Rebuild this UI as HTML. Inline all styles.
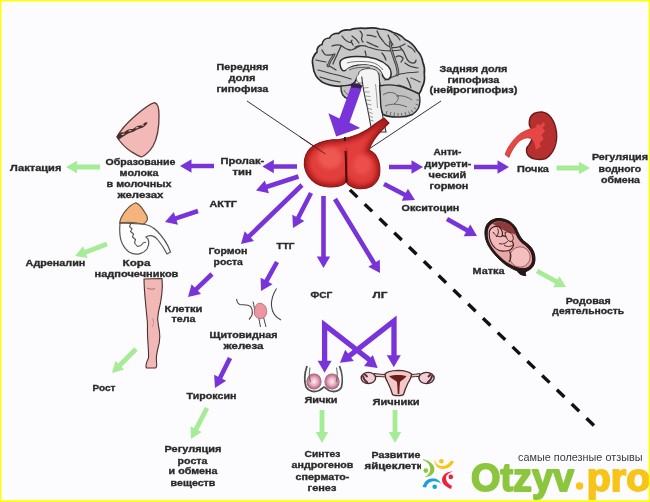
<!DOCTYPE html>
<html><head><meta charset="utf-8"><style>html,body{margin:0;padding:0;background:#fcfcfe;width:650px;height:502px;overflow:hidden}svg{display:block;filter:blur(0.3px)}text{font-family:"Liberation Sans",sans-serif}</style></head>
<body><svg width="650" height="502" viewBox="0 0 650 502">
<rect x="0" y="0" width="650" height="502" fill="#ffff00"/>
<rect x="1.2" y="1.2" width="647.6" height="499.4" fill="#fcfcfe"/>
<line x1="247" y1="101" x2="325.5" y2="154" stroke="#333" stroke-width="1"/>
<line x1="441" y1="101" x2="367.8" y2="149.8" stroke="#333" stroke-width="1"/>
<path d="M313,66 C311.5,60 313.5,55 317,52 C316.5,48 319,45 322,44.5 C322.5,40 326,38 329.5,38 C331,34.5 335,33 338.5,33.5 C341,30.5 346,29.5 350,30 C354,28 360,28 365,28.3 C370,27.5 376,27.8 380,29 C385,29 390,30.5 393,32.5 C398,33.5 402,36 405,39.5 C410,41.5 414,45 417,50.5 C420,53.5 422,57 422.8,62 C424.5,66 424.8,70 424.3,74 C425,79 424,84 422,87.5 C421.5,90 420.5,92 419,94 C410,91 400,88 392,87 L380,86 L378,76 L357,76 C357,80 355,84 348,86 C340,87 330,86 322,82 C316,78 313.5,72 313,66 Z" fill="#c8c8c8" stroke="#2a2a2a" stroke-width="1.7"/>
<path d="M341,86 C340.5,92 343,97 348,99 C353,100.5 357,97 358.5,92 L359,84 Z" fill="#c2c2c2" stroke="#2a2a2a" stroke-width="1.3"/>
<path d="M344,90 C346,94 349,96 353,96" fill="none" stroke="#555" stroke-width="0.9"/>
<path d="M342,36 C344,39 347,42 350,42.5 C351.5,42 352,41 352,40 M351,41 C352,43 352.5,44 353,45" fill="none" stroke="#3e3e3e" stroke-width="1.25" stroke-linecap="round"/>
<path d="M332,46 C335,45 338,43.5 342,46 C345,48.5 348,50 351,50 C354,49.5 357,47 360,46" fill="none" stroke="#3e3e3e" stroke-width="1.25" stroke-linecap="round"/>
<path d="M341,46 C340,49 338,52 337,55 C335.5,58 334,61 333,64" fill="none" stroke="#3e3e3e" stroke-width="1.25" stroke-linecap="round"/>
<path d="M322,50 C323,52 324.5,54.5 326,55 C329,55.5 332,55 335,54" fill="none" stroke="#3e3e3e" stroke-width="1.25" stroke-linecap="round"/>
<path d="M316,60 C319,61 322,61.5 326,62" fill="none" stroke="#3e3e3e" stroke-width="1.25" stroke-linecap="round"/>
<path d="M360,31 C362,33 363,35.5 361.5,38 C361,40 362,41 363,42" fill="none" stroke="#3e3e3e" stroke-width="1.25" stroke-linecap="round"/>
<path d="M367,35 C370,35 373,35.5 376,37" fill="none" stroke="#3e3e3e" stroke-width="1.25" stroke-linecap="round"/>
<path d="M377,31 C378,34 380,38 383,41 C385,44 388,47 392,47.5 C396,48 400,47 405,44" fill="none" stroke="#3e3e3e" stroke-width="1.25" stroke-linecap="round"/>
<path d="M388,35 C389,38 391,42 393,45" fill="none" stroke="#3e3e3e" stroke-width="1.25" stroke-linecap="round"/>
<path d="M394,34 C396,35 398,37 400,40" fill="none" stroke="#3e3e3e" stroke-width="1.25" stroke-linecap="round"/>
<path d="M355,47 C359,45.5 364,45 368,47 C372,48.5 378,50 383,50.5 C389,51 395,51 401,50" fill="none" stroke="#3e3e3e" stroke-width="1.25" stroke-linecap="round"/>
<path d="M365,51 C365.5,53 366,54 366,55.5" fill="none" stroke="#3e3e3e" stroke-width="1.25" stroke-linecap="round"/>
<path d="M367,42 C370,43.5 374,45.5 378,47" fill="none" stroke="#3e3e3e" stroke-width="1.25" stroke-linecap="round"/>
<path d="M382,53 C384,55 385,57 386,60" fill="none" stroke="#3e3e3e" stroke-width="1.25" stroke-linecap="round"/>
<path d="M400,47 C403,50 405,54 406,57 C407.5,61 410,63 413,63 C415,63 416,61.5 416,60" fill="none" stroke="#3e3e3e" stroke-width="1.25" stroke-linecap="round"/>
<path d="M396,57 C398,55.5 400,55 403,58 C403,60 402,61 401,62" fill="none" stroke="#3e3e3e" stroke-width="1.25" stroke-linecap="round"/>
<path d="M385,80 C390,78 395,76 400,74 C405,73 410,72.5 418,72" fill="none" stroke="#3e3e3e" stroke-width="1.25" stroke-linecap="round"/>
<path d="M405,63 C408,65.5 411,67.5 418,68" fill="none" stroke="#3e3e3e" stroke-width="1.25" stroke-linecap="round"/>
<path d="M407,78 C408.5,81 410,84 411,88" fill="none" stroke="#3e3e3e" stroke-width="1.25" stroke-linecap="round"/>
<path d="M411,78 C414,79 417,80.5 420,82" fill="none" stroke="#3e3e3e" stroke-width="1.25" stroke-linecap="round"/>
<path d="M398,85 C402,85.5 406,87 410,90" fill="none" stroke="#3e3e3e" stroke-width="1.25" stroke-linecap="round"/>
<path d="M318,70 C323,71 328,73 333,74 C339,75 345,77 351,79" fill="none" stroke="#3e3e3e" stroke-width="1.25" stroke-linecap="round"/>
<path d="M320,77 C326,79 333,81 340,82" fill="none" stroke="#3e3e3e" stroke-width="1.25" stroke-linecap="round"/>
<path d="M327,65 C330,66 333,68 336,70" fill="none" stroke="#3e3e3e" stroke-width="1.25" stroke-linecap="round"/>
<path d="M352,36 C355,38 357,40 359,43" fill="none" stroke="#3e3e3e" stroke-width="1.25" stroke-linecap="round"/>
<path d="M408,46 C411,47 413,49 415,52" fill="none" stroke="#3e3e3e" stroke-width="1.25" stroke-linecap="round"/>
<path d="M390,42 C390.5,47 392,53 394,58 C396,63 397.5,68 398,72 C398,73.5 397.5,74.5 397,75" fill="none" stroke="#3e3e3e" stroke-width="2.6" stroke-linecap="round"/>
<path d="M390,42 C390.5,47 392,53 394,58 C396,63 397.5,68 398,72 C398,73.5 397.5,74.5 397,75" fill="none" stroke="#aaaaaa" stroke-width="0.8" stroke-linecap="round"/>
<path d="M334,55 C331,59 329,63 328,66" fill="none" stroke="#3e3e3e" stroke-width="2.6" stroke-linecap="round"/>
<path d="M334,55 C331,59 329,63 328,66" fill="none" stroke="#aaaaaa" stroke-width="0.8" stroke-linecap="round"/>
<path d="M372,60 C376,62 379,65 381,70" fill="none" stroke="#3e3e3e" stroke-width="2.6" stroke-linecap="round"/>
<path d="M372,60 C376,62 379,65 381,70" fill="none" stroke="#aaaaaa" stroke-width="0.8" stroke-linecap="round"/>
<path d="M340,64 C339,59 345,57 355,56.5 C368,56 381,59 388,66 C392,70 392,77 389,79 C386,80.5 383,78 382,74 C380,69 374,65.5 366,65 C358,64.5 350,66.5 346,70 C343,72 340.5,70 340,64 Z" fill="#f6f6f6" stroke="#2a2a2a" stroke-width="1.5"/>
<path d="M347,63 C352,61.5 360,61 370,62 C376,63 380,66 383,70" fill="none" stroke="#666" stroke-width="0.9"/>
<path d="M346,70 C350,66.5 358,65 366,65 C374,65.5 380,69 382,74 L378,78 L357,78 C352,76 348,73 346,70 Z" fill="#c8c8c8" stroke="none"/>
<path d="M349,70 C354,67.5 362,67 370,67.5" fill="none" stroke="#555" stroke-width="0.9"/>
<path d="M356.5,77 C357,74.5 360,73.5 363,74.5 C365,76 365.5,79 365,82 C363,83.5 359,83.5 357.5,82 C356.5,80.5 356.3,78.5 356.5,77 Z" fill="#f4f4f4" stroke="#555" stroke-width="0.8"/>
<path d="M361.5,74 C362.5,86 364.5,96 367,106 C368.5,114 370,122 372,132 L386,132 C384,124 382.5,116 381.5,108 C380.5,98 380,88 379,74 Z" fill="#f4f4f4" stroke="#333" stroke-width="1.1"/>
<ellipse cx="368.5" cy="73.2" rx="10" ry="4.6" fill="#f4f4f4" stroke="none"/>
<path d="M358.5,74 C359,70.5 363,68.6 368.5,68.6 C374,68.6 378,70.5 378.5,74" fill="none" stroke="#444" stroke-width="1"/>
<path d="M364,88 L368.5,87.5 M364.5,92 L369.5,92 M365.5,96 L370.5,96.5 M366,100 L371,100.5 M367,104 L371.5,105 M367.5,108 L372,109.5 M368.5,112 L372.5,113.5 M369,116 L373,117.5 M370,120 L373.5,121 M375.5,84 C376.5,92 377,100 377.5,108" fill="none" stroke="#8a8a8a" stroke-width="0.85"/>
<path d="M379.6,86 C388,84 398,85 406.8,88.5 C412,90.5 416,92 419,94 C420.5,99 420,104 418.5,108 C417,111 414.5,113 412.4,114.5 C408,116.5 404,117 399.9,117 C393,117.3 387,116.5 383,114.5 C381,110 380.5,105 380.5,100 C380.3,95 380,90 379.6,86 Z" fill="#c0c0c0" stroke="#2a2a2a" stroke-width="1.4"/>
<path d="M383,95 C388,91 395,92 398,96 C399,99 397,102 394,104 M396,96 C402,95 408,97 412,100 M385,106 C392,103 400,104 407,107" fill="none" stroke="#555" stroke-width="0.9"/>
<path d="M386,114.5 L387,111 M390,115.5 L391,112 M394,116 L394.5,112.5 M398,116.5 L398,113 M402,116.5 L401.5,113 M406,115.5 L405,112 M410,114.5 L408.5,111.5 M413,112.5 L411,110 M416,109 L414,107.5 M418,105 L415.5,104 M419,100 L416.5,100" fill="none" stroke="#555" stroke-width="0.8"/>
<polygon fill="#7834d8" points="351.5,85.0 361.5,89.0 349.5,122.5 360.2,128.1 336.2,136.5 328.4,113.2 339.5,118.5"/>
<path d="M350.5,84 C354,82.5 359,83 362.5,85.5 L361,89 C358,88 354,87.5 351.5,88 Z" fill="#3a2050"/>
<defs><clipPath id="pc"><path d="M339,139.5 C352,138 366,132 375,124 L384,118 L389,123 L382,130 C374,138 371,144 369,150 C378,154 381,164 379.5,175 C377,186 367,190 357,188.5 C352,187.5 348,185 346,182 C343,186 335,188 325,186.5 C311,184 303,172 304.5,160 C306,148 318,139.5 339,139.5 Z"/></clipPath><radialGradient id="pl" cx="0.5" cy="0.45" r="0.55"><stop offset="0" stop-color="#f25a55"/><stop offset="0.65" stop-color="#e43e3c"/><stop offset="1" stop-color="#b01e1e"/></radialGradient><linearGradient id="ps" x1="0" y1="1" x2="1" y2="0"><stop offset="0" stop-color="#e84a46"/><stop offset="1" stop-color="#dc3c3a"/></linearGradient></defs>
<path d="M339,139.5 C352,138 366,132 375,124 L384,118 L389,123 L382,130 C374,138 371,144 369,150 C378,154 381,164 379.5,175 C377,186 367,190 357,188.5 C352,187.5 348,185 346,182 C343,186 335,188 325,186.5 C311,184 303,172 304.5,160 C306,148 318,139.5 339,139.5 Z" fill="#e23e3b"/>
<defs><filter id="pb" x="-20%%" y="-20%%" width="140%%" height="140%%"><feGaussianBlur stdDeviation="2.2"/></filter></defs>
<g clip-path="url(#pc)"><ellipse cx="330" cy="158" rx="12" ry="11" fill="#f25e58" filter="url(#pb)" opacity="0.8"/><ellipse cx="362" cy="165" rx="9" ry="10" fill="#f05854" filter="url(#pb)" opacity="0.7"/><path d="M339,139.5 C352,138 366,132 375,124 L384,118 L389,123 L382,130 C374,138 371,144 369,150 C378,154 381,164 379.5,175 C377,186 367,190 357,188.5 C352,187.5 348,185 346,182 C343,186 335,188 325,186.5 C311,184 303,172 304.5,160 C306,148 318,139.5 339,139.5 Z" fill="none" stroke="#9a1414" stroke-width="7" filter="url(#pb)" opacity="0.85"/><path d="M346,150 C347,165 347,175 347,186" fill="none" stroke="#9a1414" stroke-width="5" filter="url(#pb)" opacity="0.6"/></g>
<path d="M339,139.5 C352,138 366,132 375,124 L384,118 L389,123 L382,130 C374,138 371,144 369,150 C378,154 381,164 379.5,175 C377,186 367,190 357,188.5 C352,187.5 348,185 346,182 C343,186 335,188 325,186.5 C311,184 303,172 304.5,160 C306,148 318,139.5 339,139.5 Z" fill="none" stroke="#8a1616" stroke-width="1.1"/>
<path d="M345.5,151 C346,160 346,172 346.5,182" stroke="#4a0a0a" stroke-width="1.9" fill="none"/>
<path d="M345,137 L345,141" stroke="#222" stroke-width="2"/>
<line x1="300" y1="137" x2="325.5" y2="154" stroke="#5a1a1a" stroke-width="0.9"/>
<line x1="349.9" y1="189.9" x2="594.1" y2="425.6" stroke="#111" stroke-width="3.4" stroke-dasharray="10.4 10.15"/>
<path d="M154.6,102.7 C157.5,103.5 159,108 159,115 C159.2,126 157.5,138 153,146 C150,151 146,155 141.5,157 C138,156 135,154 131,151.5 C125,147.5 120,142 117,137 C120,131 127,123 135,116 C142,110 149,104 154.6,102.7 Z" fill="#f2b9b6" stroke="#5a3838" stroke-width="1.3"/>
<path d="M116.5,136.5 C118,133 121,131.5 124,132.5 C127,129.5 130,128.5 133,129 C136,126 139,125.5 142,125 C144,123 146,121.5 147.5,122.5 C147,124.5 145,126 143,127.5 C140,128.5 137,129 134,131.5 C131,132.5 128,133 125,135.5 C122,137 120,139 118.5,140 Z" fill="#4a2e2e"/>
<path d="M122,134.5 L124,134 M129,131 L131,130.5 M136,128 L138,127.5 M142,125.5 L143.5,125" fill="none" stroke="#d8c4c4" stroke-width="1.1" stroke-linecap="round"/>
<path d="M120,223 C119,235 120,245 129,252 C136,256 143,254 147,249 C150,244 149,239 146,237 C150,234 155,236 158,240 C162,245 165,250 167,254 L170.5,252 C168,245 163,237 157,231 C152,226 146,224 141,224 Z" fill="#fdfdfd" stroke="#555" stroke-width="1.2"/>
<path d="M131,223 L129.5,226.5 L132,229 L130.5,231.5 L133.5,234 L132.5,237 L135.5,239.5 L134.5,243 L137.5,246.5 L141,245.5 L143,243 L146,242" fill="none" stroke="#555" stroke-width="1.1" stroke-linejoin="round"/>
<path d="M135.9,202.8 C139,203 143,209 147,216 C148.5,220 146,223.5 142.5,224 C135,222 126,222 119.7,222.8 C121,215 129,205 135.9,202.8 Z" fill="#f5b47c" stroke="#6a5040" stroke-width="1.2"/>
<path d="M144,279 L162,278.5 C162.8,286 162,298 158.5,312 C157,318 157.5,322 158.5,326 C160,332 160.5,340 158,348 C156.5,354 156,358 156.5,362 C157,365 157,367 155.5,368 L146.5,368 C145,366 146.5,362 148.5,358 C149,350 147,338 147.5,326 C147.5,320 146.5,315 146,308 C145,298 144,288 144,279 Z" fill="#f2b8b6" stroke="#4a3030" stroke-width="1.1"/>
<path d="M147,288 C150,289.5 153,289.5 155,288.5" fill="none" stroke="#8a5a5a" stroke-width="0.8"/>
<path d="M152,318 C154,320 154,324 152,327" fill="none" stroke="#b08080" stroke-width="0.7"/>
<path d="M236.5,299 C237,302 238,304 240,304.5 C244,305 248,304.5 250.5,306.5 C252.5,309 252.5,313 252,315 C251,317 250,318.5 249,319.5" fill="none" stroke="#444" stroke-width="1.1"/>
<path d="M276.5,288.5 C273,294 271,300 271.5,306 C272,312 275,317 281,320" fill="none" stroke="#444" stroke-width="1.1"/>
<path d="M253,301.5 C254,305 254.5,310 255.5,314" fill="none" stroke="#444" stroke-width="1"/>
<path d="M258.6,317 L260.5,327 M263.5,317 L266,327" fill="none" stroke="#444" stroke-width="1"/>
<path d="M256.5,305 C258,302.5 261.5,303 263.5,304.5 C266.5,306.5 267,310 266.5,313 C266,316 264,318.5 261,318.5 C258,318.8 255,317 254.5,314 C254,311 254.8,307 256.5,305 Z" fill="#ec96a2" stroke="#b06070" stroke-width="0.8"/>
<defs><radialGradient id="tg" cx="0.5" cy="0.5" r="0.55"><stop offset="0" stop-color="#fdeef2"/><stop offset="0.45" stop-color="#eab0c2"/><stop offset="1" stop-color="#9a4a68"/></radialGradient></defs>
<ellipse cx="314" cy="381.5" rx="7.6" ry="8" fill="url(#tg)"/>
<ellipse cx="332" cy="381.5" rx="7.6" ry="8" fill="url(#tg)"/>
<path d="M307,366 C305,372 304,381 306,387 C308.5,391.5 314,392.5 319,390.5 C321,389.5 323,387.5 324,387 C325.5,387.5 327,389.5 329,390.5 C334,392.5 339.5,391.5 341.5,387 C343,381 342,372 339.5,366" fill="none" stroke="#505050" stroke-width="1.8"/>
<path d="M310,367.5 C309,373 309,378 310.5,382 M336.5,367.5 C337.5,373 337.5,378 336,382" fill="none" stroke="#6a6a6a" stroke-width="1.1"/>
<path d="M374,373.5 C378,374 382,374.5 385.5,374.5 L385.5,377 C382,376.5 378,376.5 374,376.5 Z M411,374.5 C414,374.5 417,374 420,373.5 L420,376.5 C417,376.5 414,376.5 411,377 Z" fill="#e8c0c0" stroke="#4a2a2a" stroke-width="1"/>
<path d="M385,374 C387,371.5 392,370.5 398,370.3 C404,370.5 409,371.5 411.5,374 C411.5,377 410,380 408,383 C406,387 404.5,391 403.5,394.5 C402,396 394,396 392.5,394.5 C391.5,391 390,387 388,383 C386,380 385,377 385,374 Z" fill="#f4c8c8" stroke="#4a2a2a" stroke-width="1.3"/>
<path d="M389,376 C394,374.5 402,374.5 406.5,376 C405,378.5 402,380 400,382 C399.5,386 399.5,390 399.3,394 L397.7,394 C397.5,390 397.5,386 397,382 C395,380 391,378.5 389,376 Z" fill="#6a1e1e"/>
<ellipse cx="368.4" cy="378" rx="7.2" ry="5.6" fill="#f0d0d6" stroke="#4a2a2a" stroke-width="1.4"/>
<ellipse cx="426.5" cy="378" rx="7.6" ry="5.6" fill="#f0d0d6" stroke="#4a2a2a" stroke-width="1.4"/>
<path d="M363,376 C363.5,379 365,381 367.5,382.5 M365,374.5 L367,376.5 M432,376 C431.5,379 430,381 427.5,382.5 M430.5,374.5 L428.5,376.5" fill="none" stroke="#5a2a3a" stroke-width="1.8" stroke-linecap="round"/>
<path d="M530,118 C532,113.5 537,111.8 542,112 C549,112.8 555,120 556.5,132.5 C557.5,143 554,153 546,158.5 C539,160.5 531,159.5 527.5,154.5 C525.5,151 526.5,147 529,145 C532,141 534,134 532,129.5 C529.5,127 528.5,122.5 530,118 Z" fill="#b73030" stroke="#6a1a1a" stroke-width="1.4"/>
<path d="M505,154.5 C508,146 514,138 521,133 C526,130 531,128.5 535,127.5 L537.5,123.5 L540.5,125 L543,121.5 L545.5,124.5 L543,128 L545.5,131 L542,135 L544,139 L540,143 L541.5,147 L537.5,149 L535.5,151 C535,146 534,141 531,138.5 C527,137 522,138.5 518,142.5 C514,147 511,152 509,157.5 Z" fill="#e54646" stroke="#b02a2a" stroke-width="0.6"/>
<path d="M485,231 C485.5,224 490,219.5 497,218.5 C505,218 512,221.5 516,228 C518.5,233 520,238 525,242 C531,246 535,251 535,259 C535,265 532,269 527,271 C525,272 524.5,273.5 526,275.5 C521,275.5 518.5,273.5 517.5,271 C511,268.5 505,265 499,259 C493,253 488,247 486,240 C485,237 484.8,234 485,231 Z" fill="#2a1818" stroke="#1a1010" stroke-width="1"/>
<path d="M487.8,231.5 C488.5,226 492,222 498,221.5 C505,221 510.5,224.5 513.5,230 C516,235 518,240 523,244 C528.5,248 532,252 532,259 C532,264 529.5,267 525,268 C520,268.5 515,267 510,264 C504,261 499,256 494,250 C490,245 488,240 487.8,236 Z" fill="#e6a8a8"/>
<path d="M492,223.5 C497,221 505,221 510,224.5 C513,227 515,231 516.5,235 C512,233 508,232 505,231 C501,228 496,226 492,223.5 Z" fill="#8e3a3a"/>
<path d="M489.5,231 C491,227 495,225.5 499,227 C502,229 503,233 502,236 C505,235.5 508,237 508.5,240 C511,240 513.5,242 513.5,245 C513,249 509,251.5 504.5,251 C500,251.5 495.5,249 493,245.5 C490,241.5 488.8,236 489.5,231 Z" fill="#f2baba" stroke="#3a1a1a" stroke-width="1.1"/>
<path d="M493,232 C495,235 497.5,237.5 502,236.5 M499,243.5 C502,244.5 505.5,244 508.5,240.5 M497.5,228.5 C499,231.5 498.5,234.5 496,237 M504,245 C507,247 510,247 513,245" fill="none" stroke="#4a2020" stroke-width="1"/>
<path d="M505,232.5 C508.5,231 512,233 513,236.5 C514,239.5 512.5,241.5 510,241.5 C507.5,240.5 505.5,237 505,232.5 Z" fill="#f0b4b4" stroke="#3a1a1a" stroke-width="0.9"/>
<circle cx="520" cy="257" r="10.2" fill="#f3bebe" stroke="#7a3a3a" stroke-width="0.7"/>
<path d="M509.5,251.5 C511.5,255 511,259 509,262" fill="none" stroke="#3a1a1a" stroke-width="1.1"/>
<polygon fill="#7834d8" points="297.0,164.2 273.8,164.2 273.8,159.8 262.3,166.5 273.8,173.2 273.8,168.8 297.0,168.8"/>
<polygon fill="#7834d8" points="297.8,174.3 266.2,184.6 264.8,180.4 256.0,190.4 269.0,193.2 267.6,189.0 299.2,178.7"/>
<polygon fill="#7834d8" points="300.4,183.3 247.7,234.4 244.6,231.2 241.0,244.0 254.0,240.9 250.9,237.7 303.6,186.7"/>
<polygon fill="#7834d8" points="309.0,191.9 296.2,216.7 292.3,214.7 293.0,228.0 304.3,220.9 300.3,218.8 313.0,194.1"/>
<polygon fill="#7834d8" points="321.2,196.0 321.2,256.5 316.8,256.5 323.5,268.0 330.2,256.5 325.8,256.5 325.8,196.0"/>
<polygon fill="#7834d8" points="333.0,200.2 372.1,264.4 368.3,266.7 380.0,273.0 379.8,259.7 376.0,262.0 337.0,197.8"/>
<polygon fill="#7834d8" points="214.0,163.7 191.5,163.7 191.5,159.2 180.0,166.0 191.5,172.8 191.5,168.3 214.0,168.3"/>
<polygon fill="#7834d8" points="197.3,208.8 175.2,216.2 173.8,212.0 165.0,222.0 178.0,224.8 176.6,220.5 198.7,213.2"/>
<polygon fill="#7834d8" points="210.4,272.3 194.7,287.4 191.6,284.2 188.0,297.0 201.0,293.9 197.9,290.7 213.6,275.7"/>
<polygon fill="#7834d8" points="275.0,260.9 264.5,279.8 260.6,277.7 261.0,291.0 272.5,284.2 268.6,282.0 279.0,263.1"/>
<polygon fill="#7834d8" points="227.9,357.0 218.1,376.7 214.1,374.7 215.0,388.0 226.2,380.7 222.2,378.7 232.1,359.0"/>
<polygon fill="#7834d8" points="389.0,169.3 411.5,169.3 411.5,173.8 423.0,167.0 411.5,160.2 411.5,164.7 389.0,164.7"/>
<polygon fill="#7834d8" points="474.0,169.3 497.5,169.3 497.5,173.8 509.0,167.0 497.5,160.2 497.5,164.7 474.0,164.7"/>
<polygon fill="#7834d8" points="382.9,186.0 403.7,196.8 401.7,200.7 415.0,200.0 407.9,188.7 405.8,192.7 385.1,182.0"/>
<polygon fill="#7834d8" points="445.9,221.0 465.9,232.3 463.7,236.2 477.0,236.0 470.3,224.5 468.1,228.3 448.1,217.0"/>
<polygon fill="#a6ec96" points="100.0,164.6 77.0,164.6 77.0,160.8 66.0,167.0 77.0,173.2 77.0,169.4 100.0,169.4"/>
<polygon fill="#a6ec96" points="106.2,241.8 84.5,249.9 83.1,246.3 75.0,256.0 87.5,258.0 86.1,254.4 107.8,246.2"/>
<polygon fill="#a6ec96" points="134.3,347.3 118.1,363.5 115.4,360.8 112.0,373.0 124.2,369.6 121.5,366.9 137.7,350.7"/>
<polygon fill="#a6ec96" points="204.9,406.9 193.9,428.1 190.5,426.4 191.0,439.0 201.6,432.1 198.2,430.3 209.1,409.1"/>
<polygon fill="#a6ec96" points="319.6,410.0 319.6,432.0 315.8,432.0 322.0,443.0 328.2,432.0 324.4,432.0 324.4,410.0"/>
<polygon fill="#a6ec96" points="392.6,410.0 392.6,432.0 388.8,432.0 395.0,443.0 401.2,432.0 397.4,432.0 397.4,410.0"/>
<polygon fill="#a6ec96" points="556.5,170.4 579.0,170.4 579.0,174.2 590.0,168.0 579.0,161.8 579.0,165.6 556.5,165.6"/>
<polygon fill="#a6ec96" points="535.8,273.1 555.2,283.8 553.3,287.2 566.0,287.0 559.4,276.2 557.5,279.6 538.2,268.9"/>
<path d="M324.6,362 L324.6,325 L371,361" fill="none" stroke="#7834d8" stroke-width="5.3" stroke-linejoin="miter" stroke-miterlimit="10"/>
<path d="M394,356 L394,321 L346,358.5" fill="none" stroke="#7834d8" stroke-width="5.3" stroke-linejoin="miter" stroke-miterlimit="10"/>
<polygon fill="#7834d8" points="317.6,360.7 324.6,372.7 331.6,360.7"/>
<polygon fill="#7834d8" points="364.0,365.9 377.7,368.0 372.8,355.0"/>
<polygon fill="#7834d8" points="386.8,355.3 393.8,367.3 400.8,355.3"/>
<polygon fill="#7834d8" points="345.2,349.8 340.0,362.7 353.8,360.9"/>
<text x="216.6" y="69.6" textLength="51.8" lengthAdjust="spacingAndGlyphs" font-family="Liberation Sans" font-weight="bold" font-size="9.7" fill="#2a2a2a" stroke="#2a2a2a" stroke-width="0.35">Передняя</text>
<text x="228.6" y="80.6" textLength="26.8" lengthAdjust="spacingAndGlyphs" font-family="Liberation Sans" font-weight="bold" font-size="9.7" fill="#2a2a2a" stroke="#2a2a2a" stroke-width="0.35">доля</text>
<text x="216.6" y="91.6" textLength="51.8" lengthAdjust="spacingAndGlyphs" font-family="Liberation Sans" font-weight="bold" font-size="9.7" fill="#2a2a2a" stroke="#2a2a2a" stroke-width="0.35">гипофиза</text>
<text x="439.6" y="71.6" textLength="67.8" lengthAdjust="spacingAndGlyphs" font-family="Liberation Sans" font-weight="bold" font-size="9.7" fill="#2a2a2a" stroke="#2a2a2a" stroke-width="0.35">Задняя доля</text>
<text x="447.6" y="82.6" textLength="51.8" lengthAdjust="spacingAndGlyphs" font-family="Liberation Sans" font-weight="bold" font-size="9.7" fill="#2a2a2a" stroke="#2a2a2a" stroke-width="0.35">гипофиза</text>
<text x="429.6" y="93.4" textLength="87.8" lengthAdjust="spacingAndGlyphs" font-family="Liberation Sans" font-weight="bold" font-size="9.7" fill="#2a2a2a" stroke="#2a2a2a" stroke-width="0.35">(нейрогипофиз)</text>
<text x="220.4" y="164.2" textLength="43.8" lengthAdjust="spacingAndGlyphs" font-family="Liberation Sans" font-weight="bold" font-size="9.7" fill="#2a2a2a" stroke="#2a2a2a" stroke-width="0.35">Пролак-</text>
<text x="232.6" y="174.9" textLength="19.3" lengthAdjust="spacingAndGlyphs" font-family="Liberation Sans" font-weight="bold" font-size="9.7" fill="#2a2a2a" stroke="#2a2a2a" stroke-width="0.35">тин</text>
<text x="10.0" y="171.0" textLength="51.4" lengthAdjust="spacingAndGlyphs" font-family="Liberation Sans" font-weight="bold" font-size="9.7" fill="#2a2a2a" stroke="#2a2a2a" stroke-width="0.35">Лактация</text>
<text x="105.6" y="165.0" textLength="69.8" lengthAdjust="spacingAndGlyphs" font-family="Liberation Sans" font-weight="bold" font-size="9.7" fill="#2a2a2a" stroke="#2a2a2a" stroke-width="0.35">Образование</text>
<text x="119.6" y="176.0" textLength="38.8" lengthAdjust="spacingAndGlyphs" font-family="Liberation Sans" font-weight="bold" font-size="9.7" fill="#2a2a2a" stroke="#2a2a2a" stroke-width="0.35">молока</text>
<text x="106.6" y="187.0" textLength="64.8" lengthAdjust="spacingAndGlyphs" font-family="Liberation Sans" font-weight="bold" font-size="9.7" fill="#2a2a2a" stroke="#2a2a2a" stroke-width="0.35">в молочных</text>
<text x="117.6" y="198.0" textLength="45.8" lengthAdjust="spacingAndGlyphs" font-family="Liberation Sans" font-weight="bold" font-size="9.7" fill="#2a2a2a" stroke="#2a2a2a" stroke-width="0.35">железах</text>
<text x="209.6" y="207.4" textLength="27.3" lengthAdjust="spacingAndGlyphs" font-family="Liberation Sans" font-weight="bold" font-size="9.7" fill="#2a2a2a" stroke="#2a2a2a" stroke-width="0.35">АКТГ</text>
<text x="25.6" y="266.4" textLength="59.8" lengthAdjust="spacingAndGlyphs" font-family="Liberation Sans" font-weight="bold" font-size="9.7" fill="#2a2a2a" stroke="#2a2a2a" stroke-width="0.35">Адреналин</text>
<text x="122.6" y="266.0" textLength="27.8" lengthAdjust="spacingAndGlyphs" font-family="Liberation Sans" font-weight="bold" font-size="9.7" fill="#2a2a2a" stroke="#2a2a2a" stroke-width="0.35">Кора</text>
<text x="94.6" y="276.6" textLength="83.8" lengthAdjust="spacingAndGlyphs" font-family="Liberation Sans" font-weight="bold" font-size="9.7" fill="#2a2a2a" stroke="#2a2a2a" stroke-width="0.35">надпочечников</text>
<text x="208.6" y="254.0" textLength="38.8" lengthAdjust="spacingAndGlyphs" font-family="Liberation Sans" font-weight="bold" font-size="9.7" fill="#2a2a2a" stroke="#2a2a2a" stroke-width="0.35">Гормон</text>
<text x="213.6" y="265.0" textLength="29.2" lengthAdjust="spacingAndGlyphs" font-family="Liberation Sans" font-weight="bold" font-size="9.7" fill="#2a2a2a" stroke="#2a2a2a" stroke-width="0.35">роста</text>
<text x="276.6" y="249.0" textLength="17.8" lengthAdjust="spacingAndGlyphs" font-family="Liberation Sans" font-weight="bold" font-size="9.7" fill="#2a2a2a" stroke="#2a2a2a" stroke-width="0.35">ТТГ</text>
<text x="164.6" y="311.6" textLength="37.8" lengthAdjust="spacingAndGlyphs" font-family="Liberation Sans" font-weight="bold" font-size="9.7" fill="#2a2a2a" stroke="#2a2a2a" stroke-width="0.35">Клетки</text>
<text x="171.6" y="322.4" textLength="23.8" lengthAdjust="spacingAndGlyphs" font-family="Liberation Sans" font-weight="bold" font-size="9.7" fill="#2a2a2a" stroke="#2a2a2a" stroke-width="0.35">тела</text>
<text x="209.6" y="337.6" textLength="67.8" lengthAdjust="spacingAndGlyphs" font-family="Liberation Sans" font-weight="bold" font-size="9.7" fill="#2a2a2a" stroke="#2a2a2a" stroke-width="0.35">Щитовидная</text>
<text x="223.6" y="349.0" textLength="39.8" lengthAdjust="spacingAndGlyphs" font-family="Liberation Sans" font-weight="bold" font-size="9.7" fill="#2a2a2a" stroke="#2a2a2a" stroke-width="0.35">железа</text>
<text x="92.6" y="390.6" textLength="22.8" lengthAdjust="spacingAndGlyphs" font-family="Liberation Sans" font-weight="bold" font-size="9.7" fill="#2a2a2a" stroke="#2a2a2a" stroke-width="0.35">Рост</text>
<text x="186.6" y="399.4" textLength="49.8" lengthAdjust="spacingAndGlyphs" font-family="Liberation Sans" font-weight="bold" font-size="9.7" fill="#2a2a2a" stroke="#2a2a2a" stroke-width="0.35">Тироксин</text>
<text x="164.6" y="452.4" textLength="56.8" lengthAdjust="spacingAndGlyphs" font-family="Liberation Sans" font-weight="bold" font-size="9.7" fill="#2a2a2a" stroke="#2a2a2a" stroke-width="0.35">Регуляция</text>
<text x="177.6" y="463.6" textLength="29.8" lengthAdjust="spacingAndGlyphs" font-family="Liberation Sans" font-weight="bold" font-size="9.7" fill="#2a2a2a" stroke="#2a2a2a" stroke-width="0.35">роста</text>
<text x="168.6" y="474.4" textLength="48.8" lengthAdjust="spacingAndGlyphs" font-family="Liberation Sans" font-weight="bold" font-size="9.7" fill="#2a2a2a" stroke="#2a2a2a" stroke-width="0.35">и обмена</text>
<text x="170.6" y="485.6" textLength="44.8" lengthAdjust="spacingAndGlyphs" font-family="Liberation Sans" font-weight="bold" font-size="9.7" fill="#2a2a2a" stroke="#2a2a2a" stroke-width="0.35">веществ</text>
<text x="310.6" y="298.4" textLength="21.8" lengthAdjust="spacingAndGlyphs" font-family="Liberation Sans" font-weight="bold" font-size="9.7" fill="#2a2a2a" stroke="#2a2a2a" stroke-width="0.35">ФСГ</text>
<text x="372.6" y="298.4" textLength="14.8" lengthAdjust="spacingAndGlyphs" font-family="Liberation Sans" font-weight="bold" font-size="9.7" fill="#2a2a2a" stroke="#2a2a2a" stroke-width="0.35">ЛГ</text>
<text x="304.4" y="402.6" textLength="33.0" lengthAdjust="spacingAndGlyphs" font-family="Liberation Sans" font-weight="bold" font-size="9.7" fill="#2a2a2a" stroke="#2a2a2a" stroke-width="0.35">Яички</text>
<text x="372.5" y="404.9" textLength="47.2" lengthAdjust="spacingAndGlyphs" font-family="Liberation Sans" font-weight="bold" font-size="9.7" fill="#2a2a2a" stroke="#2a2a2a" stroke-width="0.35">Яичники</text>
<text x="304.6" y="457.4" textLength="35.8" lengthAdjust="spacingAndGlyphs" font-family="Liberation Sans" font-weight="bold" font-size="9.7" fill="#2a2a2a" stroke="#2a2a2a" stroke-width="0.35">Синтез</text>
<text x="291.6" y="468.4" textLength="61.8" lengthAdjust="spacingAndGlyphs" font-family="Liberation Sans" font-weight="bold" font-size="9.7" fill="#2a2a2a" stroke="#2a2a2a" stroke-width="0.35">андрогенов</text>
<text x="295.6" y="479.6" textLength="53.8" lengthAdjust="spacingAndGlyphs" font-family="Liberation Sans" font-weight="bold" font-size="9.7" fill="#2a2a2a" stroke="#2a2a2a" stroke-width="0.35">спермато-</text>
<text x="307.6" y="491.0" textLength="28.8" lengthAdjust="spacingAndGlyphs" font-family="Liberation Sans" font-weight="bold" font-size="9.7" fill="#2a2a2a" stroke="#2a2a2a" stroke-width="0.35">генез</text>
<text x="371.6" y="458.0" textLength="48.8" lengthAdjust="spacingAndGlyphs" font-family="Liberation Sans" font-weight="bold" font-size="9.7" fill="#2a2a2a" stroke="#2a2a2a" stroke-width="0.35">Развитие</text>
<text x="364.6" y="469.0" textLength="64.8" lengthAdjust="spacingAndGlyphs" font-family="Liberation Sans" font-weight="bold" font-size="9.7" fill="#2a2a2a" stroke="#2a2a2a" stroke-width="0.35">яйцеклетки</text>
<text x="433.6" y="155.4" textLength="27.8" lengthAdjust="spacingAndGlyphs" font-family="Liberation Sans" font-weight="bold" font-size="9.7" fill="#2a2a2a" stroke="#2a2a2a" stroke-width="0.35">Анти-</text>
<text x="424.6" y="167.0" textLength="46.8" lengthAdjust="spacingAndGlyphs" font-family="Liberation Sans" font-weight="bold" font-size="9.7" fill="#2a2a2a" stroke="#2a2a2a" stroke-width="0.35">диурети-</text>
<text x="428.6" y="178.0" textLength="37.8" lengthAdjust="spacingAndGlyphs" font-family="Liberation Sans" font-weight="bold" font-size="9.7" fill="#2a2a2a" stroke="#2a2a2a" stroke-width="0.35">ческий</text>
<text x="429.6" y="189.0" textLength="38.8" lengthAdjust="spacingAndGlyphs" font-family="Liberation Sans" font-weight="bold" font-size="9.7" fill="#2a2a2a" stroke="#2a2a2a" stroke-width="0.35">гормон</text>
<text x="401.6" y="211.0" textLength="57.8" lengthAdjust="spacingAndGlyphs" font-family="Liberation Sans" font-weight="bold" font-size="9.7" fill="#2a2a2a" stroke="#2a2a2a" stroke-width="0.35">Окситоцин</text>
<text x="516.9" y="172.0" textLength="32.0" lengthAdjust="spacingAndGlyphs" font-family="Liberation Sans" font-weight="bold" font-size="9.7" fill="#2a2a2a" stroke="#2a2a2a" stroke-width="0.35">Почка</text>
<text x="591.9" y="160.0" textLength="56.2" lengthAdjust="spacingAndGlyphs" font-family="Liberation Sans" font-weight="bold" font-size="9.7" fill="#2a2a2a" stroke="#2a2a2a" stroke-width="0.35">Регуляция</text>
<text x="598.6" y="171.5" textLength="42.6" lengthAdjust="spacingAndGlyphs" font-family="Liberation Sans" font-weight="bold" font-size="9.7" fill="#2a2a2a" stroke="#2a2a2a" stroke-width="0.35">водного</text>
<text x="601.1" y="182.6" textLength="38.9" lengthAdjust="spacingAndGlyphs" font-family="Liberation Sans" font-weight="bold" font-size="9.7" fill="#2a2a2a" stroke="#2a2a2a" stroke-width="0.35">обмена</text>
<text x="472.6" y="274.0" textLength="31.8" lengthAdjust="spacingAndGlyphs" font-family="Liberation Sans" font-weight="bold" font-size="9.7" fill="#2a2a2a" stroke="#2a2a2a" stroke-width="0.35">Матка</text>
<text x="565.8" y="303.5" textLength="44.8" lengthAdjust="spacingAndGlyphs" font-family="Liberation Sans" font-weight="bold" font-size="9.7" fill="#2a2a2a" stroke="#2a2a2a" stroke-width="0.35">Родовая</text>
<text x="552.3" y="313.7" textLength="71.9" lengthAdjust="spacingAndGlyphs" font-family="Liberation Sans" font-weight="bold" font-size="9.7" fill="#2a2a2a" stroke="#2a2a2a" stroke-width="0.35">деятельность</text>
<rect x="421" y="456" width="36" height="36" fill="#fcfcfe"/>
<circle cx="425.8" cy="470.6" r="2.3" fill="#8cc63e"/>
<path d="M423,459 C431,461 436,466 434,472 C432,476 428,477 424.5,477 C429,475 431,471 430,467 C429,463 426,461 423,460 Z" fill="#8cc63e"/>
<circle cx="441.4" cy="461.2" r="2.3" fill="#f5c518"/>
<path d="M434.3,459 C434,465 438,469 443,469 C448,469 452,466 454,461.5 L451,460.5 C449,464 446,466 442,466 C438,466 435,463 434.3,459 Z" fill="#f5c518"/>
<circle cx="450.8" cy="476.9" r="2.3" fill="#e8253a"/>
<path d="M453,471.5 C447,471 442,475 442,480 C442,484 446,487 451,489 L452,486 C448,484 446,481 446,478 C446,475 449,472.5 453,471.5 Z" fill="#e8253a"/>
<circle cx="434.7" cy="486.7" r="2.3" fill="#1aa0d8"/>
<path d="M441,484 C440,480 436,478 432,478.5 C427,479 424,482 422.6,487 L426,487.5 C427,484 429,482 432,481.5 C436,481 439,482 441,484 Z" fill="#1aa0d8"/>
<text x="518" y="460.5" textLength="124.5" lengthAdjust="spacingAndGlyphs" font-family="Liberation Sans" font-size="10.5" fill="#3a3a3a">самые полезные отзывы</text>
<text x="471" y="490.5" textLength="103" lengthAdjust="spacingAndGlyphs" font-family="Liberation Sans" font-weight="bold" font-size="39" fill="#8cc63e" stroke="#8cc63e" stroke-width="1.8" stroke-linejoin="round">Otzyv</text>
<circle cx="579.6" cy="486" r="3.7" fill="#f7c41a"/>
<text x="586.8" y="490.5" textLength="63.5" lengthAdjust="spacingAndGlyphs" font-family="Liberation Sans" font-weight="bold" font-size="39" fill="#f7c41a" stroke="#f7c41a" stroke-width="1.8" stroke-linejoin="round">pro</text>
<path d="M0,0 H650 V502 H0 Z M1.2,1.2 V500.6 H648.8 V1.2 Z" fill="#ffff00" fill-rule="evenodd"/>
</svg></body></html>
